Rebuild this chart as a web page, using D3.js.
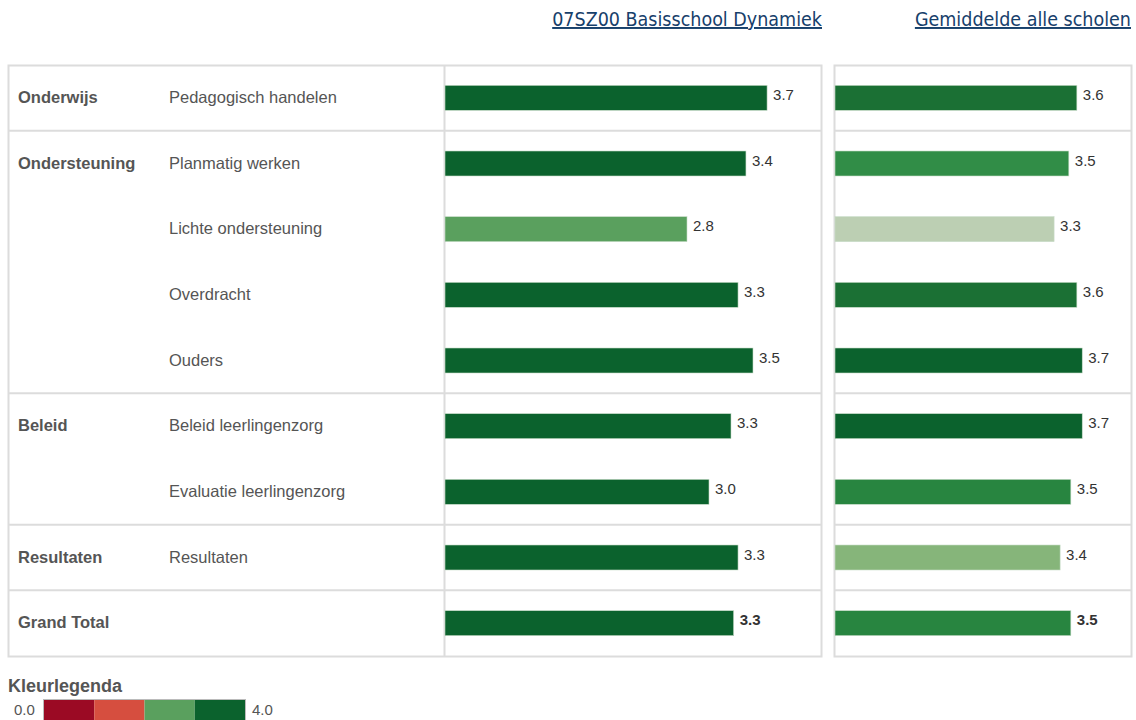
<!DOCTYPE html>
<html lang="nl">
<head>
    <meta charset="UTF-8">
    <title>Kwaliteitsscores</title>
    <style>
        body{
            margin: 0;
            background: #fff;
        }
        svg text{
            font-family: "Liberation Sans", Arial, sans-serif;
        }
    </style>
</head>
<body>
    <script src="https://cdnjs.cloudflare.com/ajax/libs/d3/7.8.2/d3.min.js"></script>
    <script>

        // gegevens
        const groepen = ["Onderwijs", "Ondersteuning", "", "", "", "Beleid", "", "Resultaten", "Grand Total"];
        const indicatoren = ["Pedagogisch handelen", "Planmatig werken", "Lichte ondersteuning", "Overdracht",
            "Ouders", "Beleid leerlingenzorg", "Evaluatie leerlingenzorg", "Resultaten", ""];
        const school = [3.66, 3.42, 2.75, 3.33, 3.5, 3.25, 3.0, 3.33, 3.28];
        const gemiddelde = [3.61, 3.49, 3.27, 3.61, 3.69, 3.69, 3.52, 3.36, 3.52];
        const kopjes = ["07SZ00 Basisschool Dynamiek", "Gemiddelde alle scholen"];
        const legendaGrenzen = [0, 1, 2, 3, 4];
        const legendaKleuren = ["#9b0a24", "#d64e3f", "#5aa05e", "#0b622d"];
        const scheidingNa = [0, 4, 6, 7];

        const w = 1136;
        const h = 720;

        const svg = d3.select("body")
            .append("svg")
            .attr("width", w)
            .attr("height", h)

        const echelleY = d3.scaleBand()
            .domain(d3.range(groepen.length))
            .range([65, 656])

        const xLinks = d3.scaleLinear().domain([0, 4]).range([445, 797])
        const xRechts = d3.scaleLinear().domain([0, 4]).range([835, 1103])

        const kleurLinks = d3.scaleThreshold()
            .domain([1, 2, 3])
            .range(legendaKleuren)

        const kleurRechts = d3.scaleLinear()
            .domain([3.27, 3.36, 3.5, 3.61, 3.69])
            .range(["#bccfb3", "#86b57a", "#2b8a43", "#1b7034", "#0b622d"])
            .clamp(true)

        const lijn = "#dcdcdc";

        // panelen
        svg.append("rect").attr("x", 8.5).attr("y", 65.5).attr("width", 813).attr("height", 591)
            .attr("fill", "none").attr("stroke", lijn).attr("stroke-width", 2)
        svg.append("rect").attr("x", 834.5).attr("y", 65.5).attr("width", 297).attr("height", 591)
            .attr("fill", "none").attr("stroke", lijn).attr("stroke-width", 2)
        svg.append("line").attr("x1", 444.5).attr("x2", 444.5).attr("y1", 65).attr("y2", 656)
            .attr("stroke", lijn).attr("stroke-width", 2)

        scheidingNa.forEach(i => {
            const y = echelleY(i) + echelleY.bandwidth();
            [[8, 821], [834, 1131]].forEach(([a, b]) => {
                svg.append("line").attr("x1", a).attr("x2", b).attr("y1", y).attr("y2", y)
                    .attr("stroke", lijn).attr("stroke-width", 2)
            })
        })

        // kopjes
        svg.selectAll("text.kop")
            .data(kopjes)
            .enter()
            .append("text")
                .attr("class", "kop")
                .attr("x", (d, i) => i == 0 ? 822 : 1131)
                .attr("y", 26)
                .attr("text-anchor", "end")
                .style("font-family", "'DejaVu Sans Condensed', sans-serif")
                .style("font-size", "19.5px")
                .style("fill", "#17406b")
                .style("text-decoration", "underline")
                .text(d => d)

        // labels links
        svg.selectAll("text.groep")
            .data(groepen)
            .enter()
            .append("text")
                .attr("x", 18)
                .attr("y", (d, i) => echelleY(i) + echelleY.bandwidth() / 2 + 5)
                .style("font-size", "16.5px")
                .style("font-weight", "bold")
                .style("fill", "#555")
                .text(d => d)

        svg.selectAll("text.indicator")
            .data(indicatoren)
            .enter()
            .append("text")
                .attr("x", 169)
                .attr("y", (d, i) => echelleY(i) + echelleY.bandwidth() / 2 + 5)
                .style("font-size", "16.5px")
                .style("fill", "#555")
                .text(d => d)

        // staven
        function staven(data, x, kleur) {
            svg.append("g")
                .selectAll("rect")
                .data(data)
                .enter()
                .append("rect")
                    .attr("x", x(0))
                    .attr("y", (d, i) => echelleY(i) + echelleY.bandwidth() / 2 - 12.5)
                    .attr("width", d => x(d) - x(0))
                    .attr("height", 25)
                    .style("fill", d => kleur(d))
                    .style("stroke", "#c8dcc8")
                    .style("stroke-width", 0.6)

            svg.append("g")
                .selectAll("text")
                .data(data)
                .enter()
                .append("text")
                    .attr("x", d => x(d) + 6)
                    .attr("y", (d, i) => echelleY(i) + echelleY.bandwidth() / 2 + 2)
                    .style("font-size", "15px")
                    .style("font-weight", (d, i) => i == data.length - 1 ? "bold" : "normal")
                    .style("fill", "#333")
                    .text(d => d3.format(".1f")(d))
        }

        staven(school, xLinks, kleurLinks)
        staven(gemiddelde, xRechts, kleurRechts)

        // legenda
        svg.append("text")
            .attr("x", 8)
            .attr("y", 692)
            .style("font-size", "18px")
            .style("font-weight", "bold")
            .style("fill", "#555")
            .text("Kleurlegenda")

        const xLegenda = d3.scaleLinear().domain([0, 4]).range([44, 245])

        svg.append("g")
            .selectAll("rect")
            .data(legendaKleuren)
            .enter()
            .append("rect")
                .attr("x", (d, i) => xLegenda(legendaGrenzen[i]))
                .attr("y", 700)
                .attr("width", (d, i) => xLegenda(legendaGrenzen[i + 1]) - xLegenda(legendaGrenzen[i]))
                .attr("height", 22)
                .style("fill", d => d)

        svg.append("rect").attr("x", 43.5).attr("y", 699.5).attr("width", 202).attr("height", 24)
            .attr("fill", "none").attr("stroke", "#bbb")

        svg.append("text").attr("x", 14).attr("y", 715).style("font-size", "15px").style("fill", "#555")
            .text(d3.format(".1f")(legendaGrenzen[0]))
        svg.append("text").attr("x", 252).attr("y", 715).style("font-size", "15px").style("fill", "#555")
            .text(d3.format(".1f")(legendaGrenzen[legendaGrenzen.length - 1]))

    </script>
</body>
</html>
